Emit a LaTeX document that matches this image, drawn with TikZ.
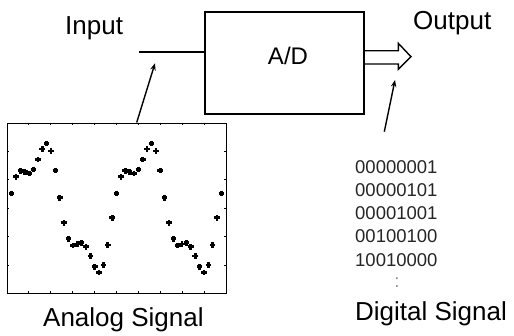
\documentclass[tikz,border=0pt]{standalone}
\usepackage{fontspec}
\setmainfont{Liberation Sans}
\usetikzlibrary{arrows.meta,calc}

\tikzset{
  label/.style={inner sep=0pt, font=\fontsize{26pt}{30pt}\selectfont},
  bits/.style={inner sep=0pt, anchor=base west, font=\fontsize{18.5pt}{22pt}\selectfont, text=black!85},
  blockbox/.style={draw, line width=1.8pt, minimum width=159pt, minimum height=102pt, inner sep=0pt},
  frame/.style={draw, line width=0.9pt, minimum width=219pt, minimum height=170pt, inner sep=0pt},
  pointer/.style={line width=1.4pt, -{Stealth[length=7pt,width=5.5pt]}},
  wire/.style={line width=2pt},
  hollow/.style={line width=1.4pt, line join=miter},
  sample/.style={line width=2.7pt},
  tick/.style={line width=0.8pt}
}

\begin{document}
\begin{tikzpicture}[x=1pt,y=-1pt]
  \useasboundingbox (0,0) rectangle (514,335);

  % converter block and its labels
  \node[blockbox] (adc) at (284.5,63) {};
  \node[label, anchor=base, font=\fontsize{24pt}{28pt}\selectfont] (adtext) at (288,64) {A/D};
  \node[label, anchor=base west] (intext) at (65,34) {Input};
  \node[label, anchor=base west] (outtext) at (413,29) {Output};

  % input wire
  \coordinate (inwire) at (139,52);
  \draw[wire] (inwire) -- (inwire -| adc.west);

  % hollow output arrow
  \coordinate (shafttop) at (364,50.7);
  \coordinate (shaftbot) at (364,64);
  \draw[hollow] (shafttop) -- (398.3,50.7) -- (398.3,43.3) -- (411,56.7)
                -- (398.3,69.3) -- (398.3,64) -- (shaftbot);

  % analog signal plot
  \node[frame] (plot) at (116.5,208) {};
  \foreach \k in {1,...,9}
    \draw[tick] ($(plot.north west)!\k/10!(plot.north east)$) -- ++(0,2.7)
                ($(plot.south west)!\k/10!(plot.south east)$) -- ++(0,-2.7);
  \foreach \k in {1,...,5}
    \draw[tick] ($(plot.north west)!\k/6!(plot.south west)$) -- ++(2.7,0)
                ($(plot.north east)!\k/6!(plot.south east)$) -- ++(-2.7,0);
  \foreach \v [count=\i from 0] in {193.3,176.7,170.7,171.7,173.3,169.3,159.3,149,143.3,151,170.3,197.7,222.7,238.7,245.3,244,242.7,246.7,256,266.7,272.3,265,245,217.7,
      193.3,176.7,170.7,171.7,173.3,169.3,159.3,149,143.3,151,170.3,197.7,222.7,238.7,245.3,244,242.7,246.7,256,266.7,272.3,265,245,217.7,193.3}
    \draw[sample] ({11.67+4.37*\i-2.8},\v) -- ++(5.6,0) ({11.67+4.37*\i},\v-2.8) -- ++(0,5.6);
  \node[label, anchor=base west] (analog) at (43,326) {Analog Signal};

  % digital words
  \node[bits] (w1) at (355,173) {00000001};
  \node[bits] (w2) at (355,196.3) {00000101};
  \node[bits] (w3) at (355,219.6) {00001001};
  \node[bits] (w4) at (355,242.9) {00100100};
  \node[bits] (w5) at (355,266.2) {10010000};
  \node[bits, anchor=base, text=black!45] (more) at (397,287) {:};
  \node[label, anchor=base west] (digital) at (355,320) {Digital Signal};

  % pointers
  \coordinate (atail) at (136.7,122.5);
  \coordinate (ahead) at (155,63.3);
  \draw[pointer] (atail) -- (ahead);
  \coordinate (dtail) at (384.3,131.7);
  \coordinate (dhead) at (395,80);
  \draw[pointer] (dtail) -- (dhead);
\end{tikzpicture}
\end{document}
